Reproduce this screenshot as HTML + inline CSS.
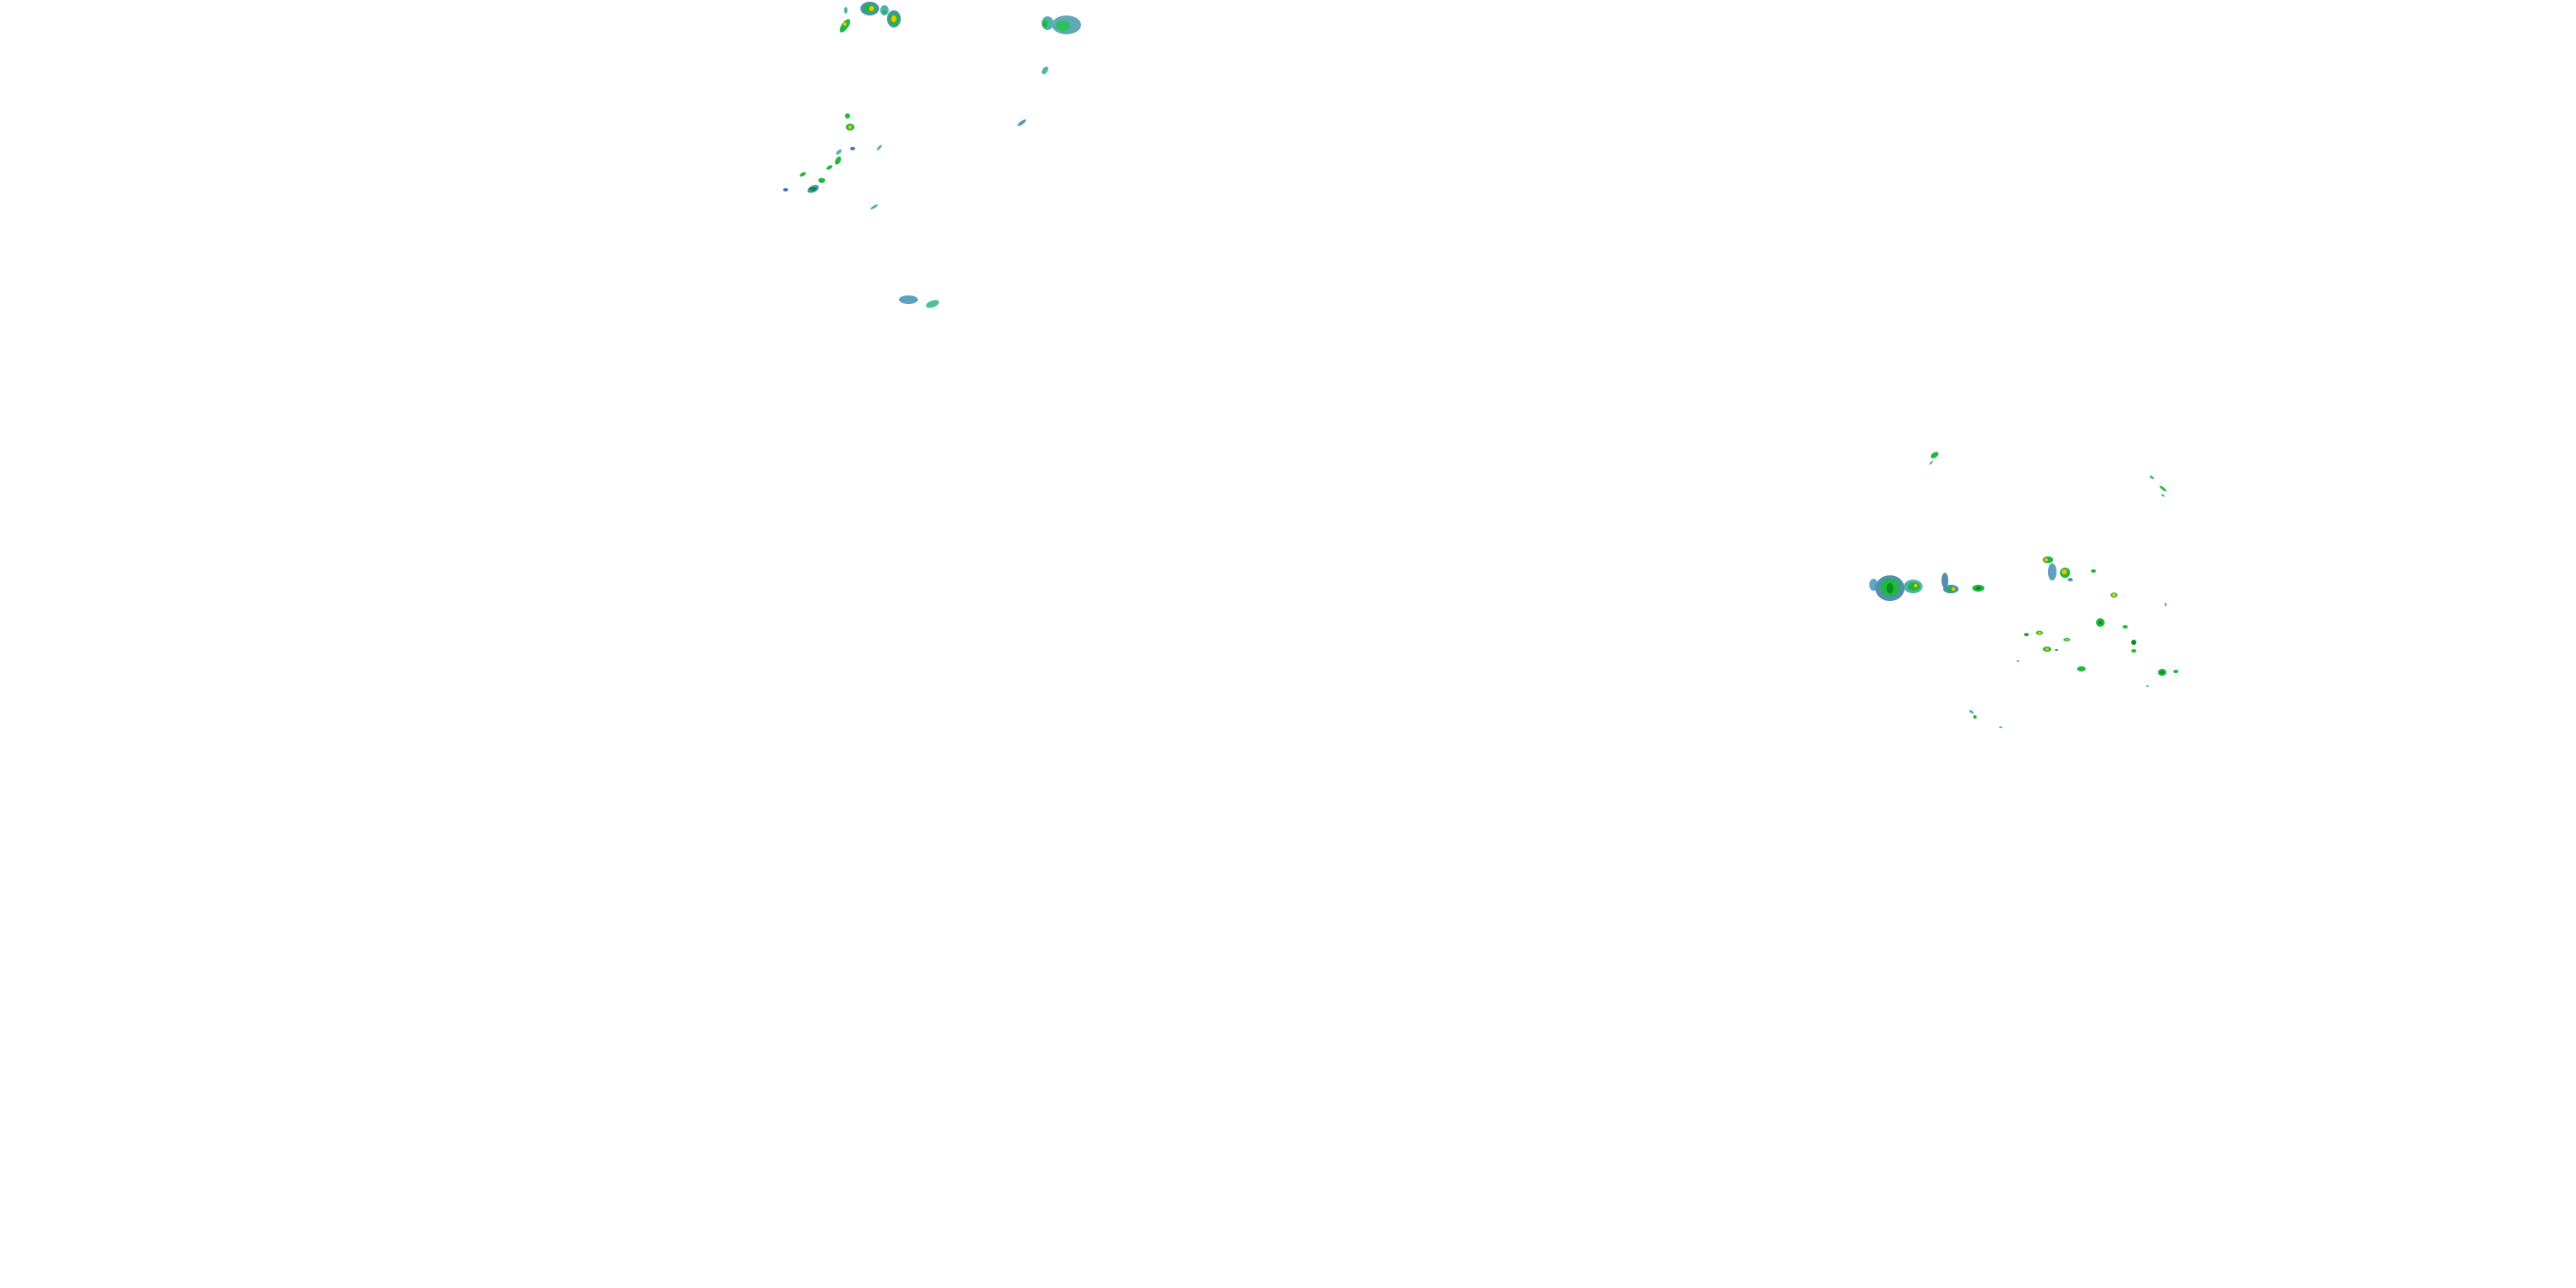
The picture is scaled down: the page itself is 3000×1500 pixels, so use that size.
<!DOCTYPE html>
<html><head><meta charset="utf-8"><style>html,body{margin:0;padding:0;background:#fff}svg{display:block}</style></head>
<body>
<svg width="3000" height="1500" viewBox="0 0 3000 1500" xmlns="http://www.w3.org/2000/svg">
<defs>
<g id="b"/>
</defs>
<g>
<!-- top-left cluster -->
<ellipse cx="1013" cy="10" rx="11" ry="8" fill="#4f8fb0"/><ellipse cx="1013" cy="10" rx="7" ry="5" fill="#1fb83a"/><ellipse cx="1015" cy="10" rx="3" ry="3" fill="#f2c200"/>
<ellipse cx="1030" cy="12" rx="5" ry="6" fill="#4fb3a9"/><ellipse cx="1030" cy="14" rx="2" ry="2" fill="#1fb83a"/>
<ellipse cx="1041" cy="22" rx="8" ry="10" fill="#4f8fb0"/><ellipse cx="1041" cy="22" rx="6" ry="7" fill="#1fb83a"/><ellipse cx="1041" cy="22" rx="3" ry="4" fill="#f2c200"/>
<ellipse cx="984" cy="30" rx="4" ry="9" transform="rotate(35 984 30)" fill="#1fb83a"/><ellipse cx="984" cy="28" rx="2" ry="2" fill="#f2c200"/>
<ellipse cx="985" cy="12" rx="2" ry="4" fill="#4fb3a9"/>
<ellipse cx="1242" cy="29" rx="17" ry="11" fill="#5fa8b5"/><ellipse cx="1238" cy="30" rx="8" ry="6" fill="#2cc05a"/>
<ellipse cx="1220" cy="27" rx="7" ry="8" fill="#4fb3a9"/><ellipse cx="1217" cy="28" rx="3" ry="4" fill="#1fb83a"/>
<ellipse cx="1217" cy="82" rx="3" ry="5" transform="rotate(35 1217 82)" fill="#4fb3a9"/>
<ellipse cx="1190" cy="143" rx="6" ry="2" transform="rotate(-35 1190 143)" fill="#4f9fb0"/>
<ellipse cx="987" cy="135" rx="3" ry="3" fill="#1fb83a"/>
<ellipse cx="990" cy="148" rx="5" ry="4" fill="#1fb83a"/><ellipse cx="990" cy="148" rx="2" ry="2" fill="#f2c200"/>
<ellipse cx="977" cy="177" rx="4" ry="2" transform="rotate(-40 977 177)" fill="#4fb3a9"/>
<ellipse cx="976" cy="187" rx="3" ry="5" transform="rotate(30 976 187)" fill="#1fb83a"/>
<ellipse cx="966" cy="195" rx="4" ry="2" transform="rotate(-30 966 195)" fill="#1fb83a"/>
<ellipse cx="935" cy="203" rx="4" ry="2" transform="rotate(-30 935 203)" fill="#1fb83a"/>
<ellipse cx="957" cy="210" rx="4" ry="3" fill="#1fb83a"/>
<ellipse cx="947" cy="220" rx="7" ry="4" transform="rotate(-25 947 220)" fill="#4f8fb0"/><ellipse cx="947" cy="220" rx="4" ry="2" fill="#0a8f1f"/>
<ellipse cx="915" cy="221" rx="3" ry="2" fill="#4a6fb5"/>
<ellipse cx="993" cy="173" rx="3" ry="2" fill="#4a6fb5"/>
<ellipse cx="1024" cy="172" rx="4" ry="1.5" transform="rotate(-50 1024 172)" fill="#4fb3a9"/>
<ellipse cx="1018" cy="241" rx="5" ry="1.5" transform="rotate(-30 1018 241)" fill="#4fb3a9"/>
<ellipse cx="1058" cy="349" rx="11" ry="5" fill="#5f9fc0"/>
<ellipse cx="1086" cy="354" rx="8" ry="4" transform="rotate(-20 1086 354)" fill="#4fbf9a"/>
<!-- right cluster -->
<ellipse cx="2253" cy="530" rx="5" ry="3" transform="rotate(-35 2253 530)" fill="#1fb83a"/>
<ellipse cx="2249" cy="539" rx="3" ry="1" transform="rotate(-45 2249 539)" fill="#4fb3a9"/>
<ellipse cx="2182" cy="681" rx="5" ry="7" fill="#5fa8c0"/>
<ellipse cx="2201" cy="685" rx="17" ry="15" fill="#4f8fb0"/><ellipse cx="2201" cy="684" rx="11" ry="10" fill="#1fb83a"/><ellipse cx="2201" cy="685" rx="4" ry="6" fill="#0a8f1f"/>
<ellipse cx="2228" cy="683" rx="11" ry="8" fill="#4fb3a9"/><ellipse cx="2229" cy="683" rx="7" ry="5" fill="#1fb83a"/><ellipse cx="2231" cy="682" rx="2" ry="2" fill="#f2c200"/>
<ellipse cx="2265" cy="676" rx="4" ry="9" fill="#4f8fb0"/>
<ellipse cx="2272" cy="686" rx="9" ry="5" fill="#4f8fb0"/><ellipse cx="2273" cy="686" rx="5" ry="3" fill="#1fb83a"/><ellipse cx="2275" cy="686" rx="2" ry="2" fill="#f2c200"/>
<ellipse cx="2304" cy="685" rx="7" ry="4" fill="#1fb83a"/><ellipse cx="2304" cy="685" rx="3" ry="2" fill="#0a8f1f"/>
<ellipse cx="2385" cy="652" rx="6" ry="4" fill="#1fb83a"/><ellipse cx="2383" cy="652" rx="2" ry="2" fill="#f2c200"/>
<ellipse cx="2390" cy="666" rx="5" ry="10" fill="#5f9fc0"/>
<ellipse cx="2405" cy="667" rx="6" ry="6" fill="#1fb83a"/><ellipse cx="2404" cy="666" rx="3" ry="3" fill="#f2c200"/>
<ellipse cx="2411" cy="675" rx="3" ry="2" fill="#4f8fb0"/>
<ellipse cx="2438" cy="665" rx="3" ry="2" fill="#1fb83a"/>
<ellipse cx="2462" cy="693" rx="4" ry="3" fill="#1fb83a"/><ellipse cx="2462" cy="693" rx="2" ry="2" fill="#f2c200"/>
<ellipse cx="2446" cy="725" rx="5" ry="5" fill="#1fb83a"/><ellipse cx="2446" cy="725" rx="2" ry="2" fill="#0a8f1f"/>
<ellipse cx="2360" cy="739" rx="3" ry="2" fill="#1fb83a"/><ellipse cx="2360" cy="740" rx="1" ry="1" fill="#e22"/>
<ellipse cx="2375" cy="737" rx="4" ry="2.5" fill="#1fb83a"/><ellipse cx="2375" cy="737" rx="2" ry="1.5" fill="#f2c200"/>
<ellipse cx="2407" cy="745" rx="4" ry="2" fill="#1fb83a"/><ellipse cx="2407" cy="745" rx="2" ry="1" fill="#f2c200"/>
<ellipse cx="2384" cy="756" rx="5" ry="3" fill="#1fb83a"/><ellipse cx="2384" cy="756" rx="2" ry="1.5" fill="#f2c200"/>
<ellipse cx="2395" cy="757" rx="2" ry="1" fill="#4a6fb5"/>
<ellipse cx="2475" cy="730" rx="3" ry="2" fill="#1fb83a"/>
<ellipse cx="2485" cy="748" rx="3" ry="3" fill="#0a8f1f"/>
<ellipse cx="2485" cy="758" rx="3" ry="2" fill="#1fb83a"/>
<ellipse cx="2424" cy="779" rx="5" ry="3" fill="#1fb83a"/>
<ellipse cx="2518" cy="783" rx="5" ry="4" fill="#1fb83a"/><ellipse cx="2518" cy="783" rx="2" ry="2" fill="#0a8f1f"/>
<ellipse cx="2534" cy="782" rx="3" ry="2" fill="#1fb83a"/>
<ellipse cx="2519" cy="569" rx="5" ry="1.5" transform="rotate(40 2519 569)" fill="#1fb83a"/>
<ellipse cx="2506" cy="556" rx="3" ry="1.5" transform="rotate(40 2506 556)" fill="#4fb3a9"/>
<ellipse cx="2519" cy="577" rx="2" ry="1" transform="rotate(40 2519 577)" fill="#1fb83a"/>
<ellipse cx="2296" cy="829" rx="3" ry="1.5" transform="rotate(30 2296 829)" fill="#4fb3a9"/>
<ellipse cx="2300" cy="835" rx="2" ry="2" fill="#1fb83a"/>
<ellipse cx="2330" cy="847" rx="2" ry="1" fill="#4fb3a9"/>
<ellipse cx="2522" cy="704" rx="1" ry="2" fill="#1fb83a"/>
<ellipse cx="2350" cy="770" rx="1.5" ry="1" fill="#4fb3a9"/>
<ellipse cx="2501" cy="799" rx="1.5" ry="1" fill="#4fb3a9"/>
</g>
</svg>
</body></html>
